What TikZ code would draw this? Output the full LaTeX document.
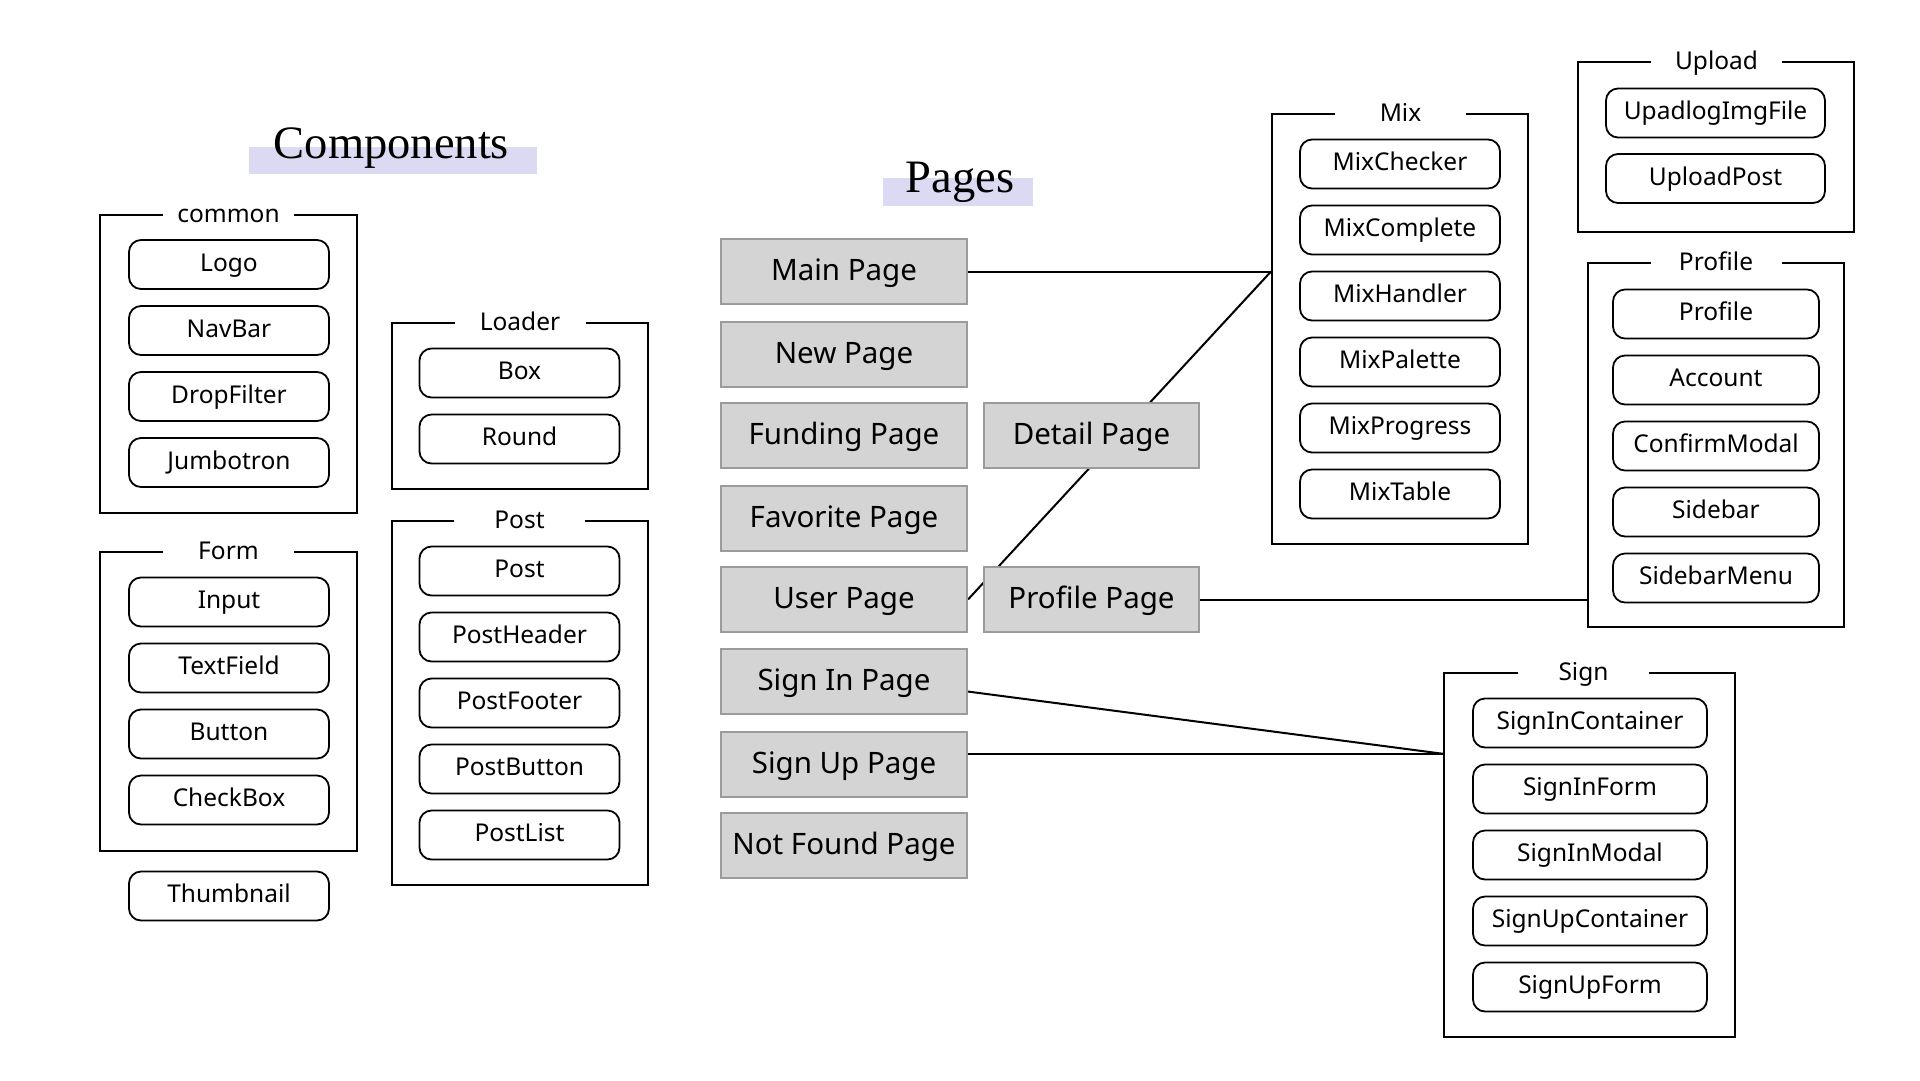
\documentclass[tikz,border=0pt]{standalone}
\usepackage{fontspec}
\usetikzlibrary{calc,backgrounds}
\newfontfamily\uifont{Noto Sans}
\newfontfamily\titlefont{Liberation Serif}
\definecolor{hilite}{HTML}{DCD9F2}
\definecolor{pagefill}{HTML}{D4D4D4}
\definecolor{pageline}{HTML}{9B9B9B}
\tikzset{
  grp/.style={draw, line width=2pt, inner sep=0pt},
  glabel/.style={fill=white, inner sep=0pt, minimum width=#1, text height=17.5pt, text depth=3pt,
     font=\uifont\fontsize{24.5}{24.5}\selectfont},
  glabel/.default=131pt,
  item/.style={draw, line width=1.8pt, rounded corners=12pt, minimum width=#1, minimum height=49pt,
     inner sep=0pt, text height=17.5pt, text depth=4.5pt, font=\uifont\fontsize{24.5}{24.5}\selectfont},
  item/.default=200pt,
  pagebox/.style={draw=pageline, fill=pagefill, line width=2pt, minimum width=#1, minimum height=65pt,
     inner sep=0pt, text height=21pt, text depth=2.5pt, font=\uifont\fontsize{29.5}{29.5}\selectfont},
  pagebox/.default=246pt,
  conn/.style={line width=2pt},
  ttl/.style={font=\titlefont\fontsize{46.5}{46.5}\selectfont, anchor=base, inner sep=0pt},
}
\begin{document}
\begin{tikzpicture}[x=1pt,y=-1pt]
\useasboundingbox (0,0) rectangle (1920,1080);

% titles
\fill[hilite] (249,147) rectangle (537,174);
\node[ttl] (tcomp) at (391.5,158) {Components};
\fill[hilite] (883,178) rectangle (1033,206);
\node[ttl] (tpages) at (960,192) {Pages};

% ---- common
\node[grp, minimum width=257pt, minimum height=298pt] (common) at (228.5,364) {};
\node[glabel] (lcommon) at (228.5,215) {common};
\node[item] (logo) at (229,264.5) {Logo};
\node[item] (navbar) at (229,330.5) {NavBar};
\node[item] (dropfilter) at (229,396.5) {DropFilter};
\node[item] (jumbotron) at (229,462.5) {Jumbotron};

% ---- Form
\node[grp, minimum width=257pt, minimum height=299pt] (form) at (228.5,701.5) {};
\node[glabel] (lform) at (228.5,552) {Form};
\node[item] (input) at (229,602) {Input};
\node[item] (textfield) at (229,668) {TextField};
\node[item] (button) at (229,734) {Button};
\node[item] (checkbox) at (229,800) {CheckBox};
\node[item] (thumbnail) at (229,896) {Thumbnail};

% ---- Loader
\node[grp, minimum width=256pt, minimum height=166pt] (loader) at (520,406) {};
\node[glabel] (lloader) at (520,323) {Loader};
\node[item] (box) at (519.5,373) {Box};
\node[item] (round) at (519.5,439) {Round};

% ---- Post
\node[grp, minimum width=256pt, minimum height=364pt] (post) at (520,703) {};
\node[glabel] (lpost) at (519.5,521) {Post};
\node[item] (postitem) at (519.5,571) {Post};
\node[item] (postheader) at (519.5,637) {PostHeader};
\node[item] (postfooter) at (519.5,703) {PostFooter};
\node[item] (postbutton) at (519.5,769) {PostButton};
\node[item] (postlist) at (519.5,835) {PostList};

% ---- Pages
\node[pagebox] (main) at (844,271.5) {Main Page};
\node[pagebox] (new) at (844,354.5) {New Page};
\node[pagebox] (funding) at (844,435.5) {Funding Page};
\node[pagebox] (favorite) at (844,518.5) {Favorite Page};
\node[pagebox] (user) at (844,599.5) {User Page};
\node[pagebox] (signin) at (844,681.5) {Sign In Page};
\node[pagebox] (signup) at (844,764.5) {Sign Up Page};
\node[pagebox] (notfound) at (844,845.5) {Not Found Page};
\node[pagebox=215pt] (detail) at (1091.5,435.5) {Detail Page};
\node[pagebox=215pt] (profilepage) at (1091.5,599.5) {Profile Page};

% ---- Mix
\node[grp, minimum width=256pt, minimum height=430pt] (mix) at (1400,329) {};
\node[glabel] (lmix) at (1400.5,114) {Mix};
\node[item] (mixchecker) at (1400,164) {MixChecker};
\node[item] (mixcomplete) at (1400,230) {MixComplete};
\node[item] (mixhandler) at (1400,296) {MixHandler};
\node[item] (mixpalette) at (1400,362) {MixPalette};
\node[item] (mixprogress) at (1400,428) {MixProgress};
\node[item] (mixtable) at (1400,494) {MixTable};

% ---- Upload
\node[grp, minimum width=276pt, minimum height=170pt] (upload) at (1716,147) {};
\node[glabel] (lupload) at (1716.5,62) {Upload};
\node[item=219pt] (upimg) at (1715.5,113) {UpadlogImgFile};
\node[item=219pt] (uppost) at (1715.5,178.5) {UploadPost};

% ---- Profile
\node[grp, minimum width=256pt, minimum height=364pt] (profile) at (1716,445) {};
\node[glabel] (lprofile) at (1716,263) {Profile};
\node[item=206pt] (profileitem) at (1716,314) {Profile};
\node[item=206pt] (account) at (1716,380) {Account};
\node[item=206pt] (confirm) at (1716,446) {ConfirmModal};
\node[item=206pt] (sidebar) at (1716,512) {Sidebar};
\node[item=206pt] (sidebarmenu) at (1716,578) {SidebarMenu};

% ---- Sign
\node[grp, minimum width=291pt, minimum height=364pt] (sign) at (1589.5,855) {};
\node[glabel] (lsign) at (1583.5,673) {Sign};
\node[item=234pt] (sic) at (1590,723) {SignInContainer};
\node[item=234pt] (sif) at (1590,789) {SignInForm};
\node[item=234pt] (sim) at (1590,855) {SignInModal};
\node[item=234pt] (suc) at (1590,921) {SignUpContainer};
\node[item=234pt] (suf) at (1590,987) {SignUpForm};

% ---- connectors
\coordinate (mj) at (main.east -| mix.west);
\path ($(signin.east)!0.3!(signin.south east)$) coordinate (si);
\path ($(signup.east)!0.32!(signup.north east)$) coordinate (su);
\coordinate (sj) at (su -| sign.west);
\begin{scope}[on background layer]
\draw[conn] (main.east) -- (mj);
\draw[conn] (user.east) -- (mj);
\draw[conn] (profilepage.east) -- (profilepage.east -| profile.west);
\draw[conn] (si) -- (sj);
\draw[conn] (su) -- (sj);
\end{scope}
\end{tikzpicture}
\end{document}
